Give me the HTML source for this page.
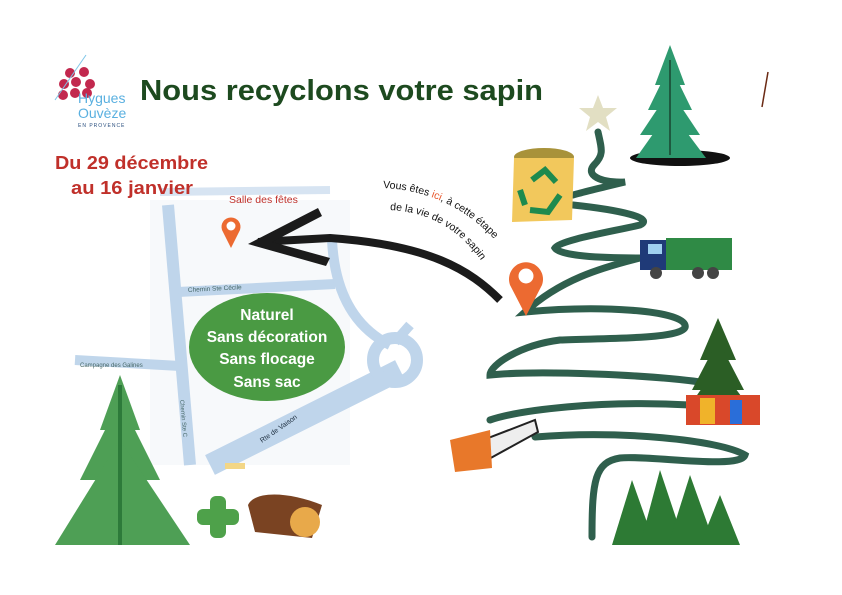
<!DOCTYPE html>
<html><head><meta charset="utf-8"><style>
html,body{margin:0;padding:0;background:#fff;}
svg{display:block;}
text{font-family:"Liberation Sans","DejaVu Sans",sans-serif;}
</style></head><body>
<svg width="842" height="595" viewBox="0 0 842 595" xmlns="http://www.w3.org/2000/svg">
<rect width="842" height="595" fill="#fff"/>
<!-- map -->
<g opacity="0.9">
<rect x="150" y="200" width="200" height="265" fill="#f7f9fb"/>
<path d="M168 205 L190 465" stroke="#b9d1e9" stroke-width="12" fill="none"/>
<path d="M160 192 L330 190" stroke="#d3e2f1" stroke-width="8" fill="none"/>
<path d="M178 292 L335 284" stroke="#b9d1e9" stroke-width="10" fill="none"/>
<path d="M75 360 L180 366" stroke="#b9d1e9" stroke-width="10" fill="none"/>
<path d="M332 240 C335 300 360 330 390 345" stroke="#b9d1e9" stroke-width="10" fill="none"/>
<path d="M210 465 L400 370" stroke="#b9d1e9" stroke-width="22" fill="none"/>
<circle cx="395" cy="360" r="22" fill="none" stroke="#b9d1e9" stroke-width="12"/>
<path d="M395 342 L410 325" stroke="#b9d1e9" stroke-width="10"/>
<rect x="225" y="463" width="20" height="6" fill="#f2d27a"/>
</g>
<text x="188" y="292" font-size="6.5" fill="#466" transform="rotate(-3 188 292)">Chemin Ste Cécile</text>
<text x="80" y="367" font-size="6" fill="#466">Campagne des Galines</text>
<text x="180" y="400" font-size="6" fill="#466" transform="rotate(85 180 400)">Chemin Ste C</text>
<text x="262" y="443" font-size="7" fill="#234" transform="rotate(-35 262 443)">Rte de Vaison</text>
<!-- green ellipse -->
<ellipse cx="267" cy="347" rx="78" ry="54" fill="#4a9a43"/>
<g font-weight="bold" font-size="15.5" fill="#fff" text-anchor="middle">
<text x="267" y="320">Naturel</text>
<text x="267" y="342">Sans décoration</text>
<text x="267" y="364">Sans flocage</text>
<text x="267" y="387">Sans sac</text>
</g>
<!-- logo -->
<g fill="#c2284e"><circle cx="70" cy="73" r="5"/><circle cx="84" cy="72" r="5"/><circle cx="64" cy="84" r="5"/><circle cx="76" cy="82" r="5"/><circle cx="90" cy="84" r="5"/><circle cx="63" cy="95" r="5"/><circle cx="75" cy="93" r="5"/><circle cx="87" cy="93" r="5"/></g>
<path d="M86 55 L55 100" stroke="#7ec6e8" stroke-width="1"/>
<text x="78" y="103" font-size="14" fill="#5ab0e0">Hygues</text>
<text x="78" y="118" font-size="14" fill="#5ab0e0">Ouvèze</text>
<text x="78" y="127" font-size="5" fill="#2a4f7f" letter-spacing="1">EN PROVENCE</text>
<!-- title -->
<text x="140" y="100" font-size="29" font-weight="bold" fill="#1d4a1f" textLength="403" lengthAdjust="spacingAndGlyphs">Nous recyclons votre sapin</text>
<text x="55" y="169" font-size="18" font-weight="bold" fill="#c0302a" textLength="153" lengthAdjust="spacingAndGlyphs">Du 29 décembre</text>
<text x="71" y="194" font-size="18" font-weight="bold" fill="#c0302a" textLength="122" lengthAdjust="spacingAndGlyphs">au 16 janvier</text>
<text x="229" y="203" font-size="10.5" fill="#c0302a">Salle des fêtes</text>
<!-- small marker -->
<path d="M231 248 L222 230 A9.5 9.5 0 1 1 240 230 Z" fill="#ec6a31"/><circle cx="231" cy="226" r="4.5" fill="#fff"/>
<!-- black arrow -->
<path d="M500 300 C470 270 430 245 330 238 L258 242" stroke="#1b1b1b" stroke-width="8" fill="none"/>
<path d="M248 244 L318 208 L322 216 L272 242 L330 258 L326 266 Z" fill="#1b1b1b"/>
<!-- curved text -->
<defs>
<path id="t1" d="M383 188 C430 190 480 210 518 270"/>
<path id="t2" d="M390 210 C430 212 470 230 498 290"/>
</defs>
<text font-size="10.5" fill="#111"><textPath href="#t1">Vous êtes <tspan fill="#e8562a">ici</tspan>, à cette étape</textPath></text>
<text font-size="10.5" fill="#111"><textPath href="#t2">de la vie de votre sapin</textPath></text>
<!-- winding path -->
<path d="M598 132 C602 150 604 155 594 165 C585 175 600 183 625 182 C600 188 580 193 573 195 M573 205 C620 210 655 218 640 225 C610 232 560 240 555 248 C560 256 600 258 640 258 C600 268 560 280 525 312 C600 305 680 310 685 325 C690 340 600 338 560 340 C520 345 490 365 490 375 C540 370 650 375 700 382 M690 405 C600 400 520 410 490 420 M535 437 C620 430 720 440 745 455 C740 470 650 455 620 458 C595 462 592 480 592 537" stroke="#2f5f4d" stroke-width="7" fill="none" stroke-linecap="round"/>
<!-- star -->
<polygon points="598,95 603,108 617,108 606,117 610,131 598,122 586,131 590,117 579,108 593,108" fill="#e2dfc3"/>
<!-- big marker -->
<path d="M526 316 L510 285 A17 17 0 1 1 542 285 Z" fill="#ec6a31"/><circle cx="526" cy="276" r="7.5" fill="#fff"/>
<!-- bag -->
<ellipse cx="544" cy="157" rx="30" ry="9" fill="#a8923a"/>
<path d="M514 158 L574 158 L572 220 L512 222 Z" fill="#f2c85c"/>
<path d="M532 180 L545 170 L556 182 M560 195 L548 212 L530 210 M525 205 L520 190" stroke="#1e8a4e" stroke-width="6" fill="none"/>
<!-- truck -->
<rect x="666" y="238" width="66" height="32" fill="#2f8a45"/>
<rect x="640" y="240" width="26" height="30" fill="#1f3a78"/>
<rect x="648" y="244" width="14" height="10" fill="#9fd0f0"/>
<circle cx="656" cy="273" r="6" fill="#444"/><circle cx="698" cy="273" r="6" fill="#444"/><circle cx="713" cy="273" r="6" fill="#444"/>
<!-- top right tree -->
<ellipse cx="680" cy="158" rx="50" ry="8" fill="#111"/>
<g fill="#2e9a6f">
<path d="M670 45 L655 85 L685 85 Z"/><path d="M670 65 L648 110 L692 110 Z"/><path d="M670 90 L640 135 L700 135 Z"/><path d="M670 110 L636 158 L706 158 Z"/>
</g>
<path d="M670 60 L670 155" stroke="#1e5a40" stroke-width="2"/>
<path d="M768 72 L762 107" stroke="#6b2a14" stroke-width="1.5"/>
<!-- xmas tree -->
<g fill="#2b5e25"><path d="M718 318 L700 360 L736 360 Z"/><path d="M718 340 L692 390 L744 390 Z"/><path d="M718 365 L688 408 L750 408 Z"/></g>
<rect x="686" y="395" width="74" height="30" fill="#d9482a"/>
<rect x="700" y="398" width="15" height="26" fill="#f0b32a"/><rect x="730" y="400" width="12" height="24" fill="#2a6ed9"/>
<!-- chainsaw -->
<path d="M470 445 L535 420 L538 432 L478 465 Z" fill="#eee" stroke="#222" stroke-width="2"/>
<path d="M450 440 L490 430 L492 468 L455 472 Z" fill="#e8782a"/>
<!-- bottom right forest -->
<g fill="#2d7a34">
<path d="M632 480 L612 545 L655 545 Z"/><path d="M660 470 L640 545 L685 545 Z"/><path d="M690 475 L668 545 L715 545 Z"/><path d="M720 495 L700 545 L740 545 Z"/>
</g>
<!-- left tree -->
<g fill="#4e9f55">
<path d="M120 375 L100 430 L140 430 Z"/><path d="M120 400 L80 480 L160 480 Z"/><path d="M120 440 L55 545 L190 545 Z"/>
</g>
<path d="M120 385 L120 545" stroke="#2d7a3a" stroke-width="4"/>
<!-- plus -->
<rect x="210" y="496" width="16" height="42" rx="6" fill="#4ea14a"/><rect x="197" y="509" width="42" height="16" rx="6" fill="#4ea14a"/>
<!-- log -->
<path d="M248 505 C255 490 290 492 322 505 L312 538 L255 532 Z" fill="#7a4322"/>
<ellipse cx="305" cy="522" rx="15" ry="15" fill="#e8a94a"/>
</svg>
</body></html>
